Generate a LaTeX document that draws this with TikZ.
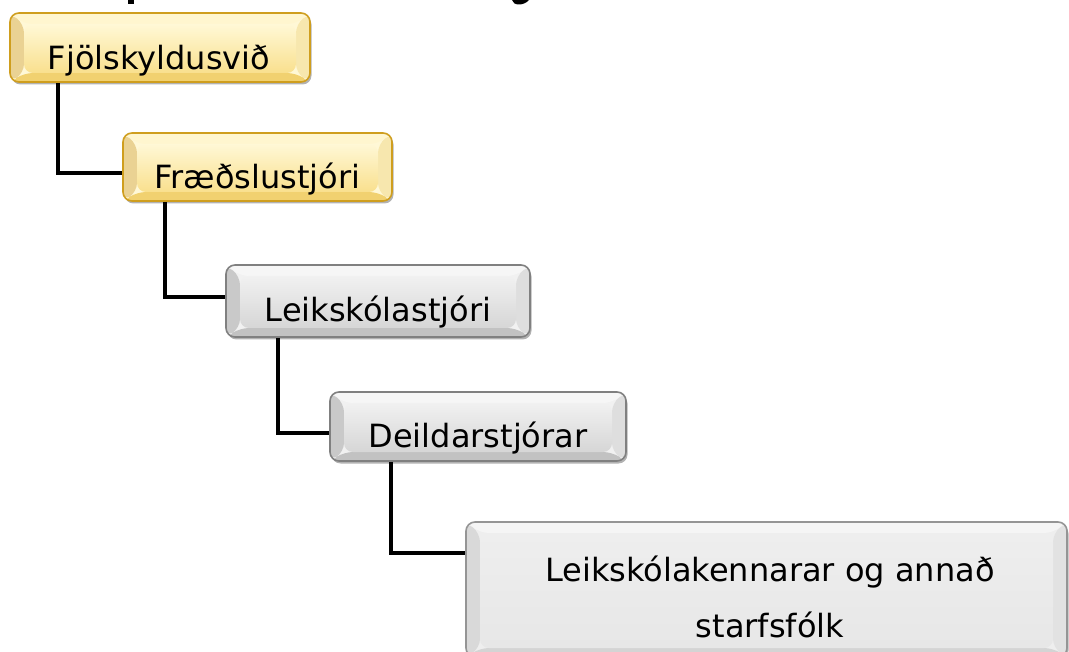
\documentclass[tikz,border=0pt]{standalone}
\usepackage{fontspec}
\setmainfont{DejaVu Sans}
\usetikzlibrary{calc,shadows}

\definecolor{gbord}{HTML}{CF9E1E}
\definecolor{gfaceT}{HTML}{FFF8D6}
\definecolor{gfaceB}{HTML}{F9E08E}
\definecolor{gleft}{HTML}{EAD293}
\definecolor{gtop}{HTML}{FFF6CF}
\definecolor{gright}{HTML}{F7E7AE}
\definecolor{gbot}{HTML}{F1D170}

\definecolor{sbord}{HTML}{808080}
\definecolor{sfaceT}{HTML}{F1F1F1}
\definecolor{sfaceB}{HTML}{D6D6D6}
\definecolor{sleft}{HTML}{C9C9C9}
\definecolor{stop}{HTML}{F6F6F6}
\definecolor{sright}{HTML}{DEDEDE}
\definecolor{sbot}{HTML}{C2C2C2}

\definecolor{lbord}{HTML}{959595}
\definecolor{lfaceT}{HTML}{EEEEEE}
\definecolor{lfaceB}{HTML}{E7E7E7}
\definecolor{lleft}{HTML}{D9D9D9}
\definecolor{ltop}{HTML}{F5F5F5}
\definecolor{lright}{HTML}{E2E2E2}
\definecolor{lbot}{HTML}{D4D4D4}

\newcommand\bevelfaces[6]{%
  \path (path picture bounding box.north west) coordinate (pA)
        (path picture bounding box.north east) coordinate (pB)
        (path picture bounding box.south east) coordinate (pC)
        (path picture bounding box.south west) coordinate (pD);
  \path (pA) ++(14pt,-11pt) coordinate (pa)
        (pB) ++(-14pt,-11pt) coordinate (pb)
        (pC) ++(-14pt,9pt) coordinate (pc)
        (pD) ++(14pt,9pt) coordinate (pd);
  \fill[#4] (pA) -- (pB) -- (pb) -- (pa) -- cycle;
  \fill[#6] (pD) -- (pC) -- (pc) -- (pd) -- cycle;
  \fill[#3] (pA) -- (pa) -- (pd) -- (pD) -- cycle;
  \fill[#5] (pB) -- (pb) -- (pc) -- (pC) -- cycle;
  \shade[top color=#1, bottom color=#2] (pa) rectangle (pc);
}

\tikzset{
  bx/.style={rounded corners=9pt, line width=1.6pt, inner sep=0pt,
    drop shadow={shadow xshift=1.5pt, shadow yshift=-2.5pt, opacity=0.3, fill=black}},
  goldbox/.style={bx, draw=gbord, fill=gfaceT,
    path picture={\bevelfaces{gfaceT}{gfaceB}{gleft}{gtop}{gright}{gbot}}},
  graybox/.style={bx, draw=sbord, fill=sfaceT,
    path picture={\bevelfaces{sfaceT}{sfaceB}{sleft}{stop}{sright}{sbot}}},
  lightbox/.style={bx, draw=lbord, fill=lfaceT,
    path picture={\bevelfaces{lfaceT}{lfaceB}{lleft}{ltop}{lright}{lbot}}},
  lbl/.style={inner sep=0pt, font=\fontsize{32}{56}\selectfont, text=black},
  conn/.style={draw=black, line width=3.2pt}
}

\begin{document}
\begin{tikzpicture}[x=1pt, y=-1pt]
\useasboundingbox (0,0) rectangle (1069,652);
\fill[white] (0,0) rectangle (1069,652);

% cut-off title fragments
\fill[black] (128,0) rectangle (134,4.5);
\fill[black] (512,0) .. controls (513,6) and (524,6) .. (529,0) -- cycle;

% boxes
\node[goldbox, minimum width=300pt, minimum height=69pt] (b1) at (160,47.5) {};
\node[goldbox, minimum width=269pt, minimum height=68pt] (b2) at (257.5,167) {};
\node[graybox, minimum width=304pt, minimum height=72pt] (b3) at (378,301) {};
\node[graybox, minimum width=296pt, minimum height=69pt] (b4) at (478,426.5) {};
\node[lightbox, minimum width=601pt, minimum height=135pt] (b5) at (766.5,589.5) {};

% texts
\node[lbl, anchor=base] (t1) at (159,70) {Fjölskyldusvið};
\node[lbl, anchor=base] (t2) at (257.5,189) {Fræðslustjóri};
\node[lbl, anchor=base] (t3) at (378,322) {Leikskólastjóri};
\node[lbl, anchor=base] (t4) at (478,447) {Deildarstjórar};
\node[lbl, anchor=base, align=center] (t5) at (770,637) {Leikskólakennarar og annað\\starfsfólk};

% connectors
\coordinate (j1) at (58,173);
\coordinate (j2) at (165,297);
\coordinate (j3) at (278,433);
\coordinate (j4) at (391,553);
\draw[conn] (b1.south -| j1) -- (j1) -- (j1 -| b2.west);
\draw[conn] (b2.south -| j2) -- (j2) -- (j2 -| b3.west);
\draw[conn] (b3.south -| j3) -- (j3) -- (j3 -| b4.west);
\draw[conn] (b4.south -| j4) -- (j4) -- (j4 -| b5.west);
\end{tikzpicture}
\end{document}
